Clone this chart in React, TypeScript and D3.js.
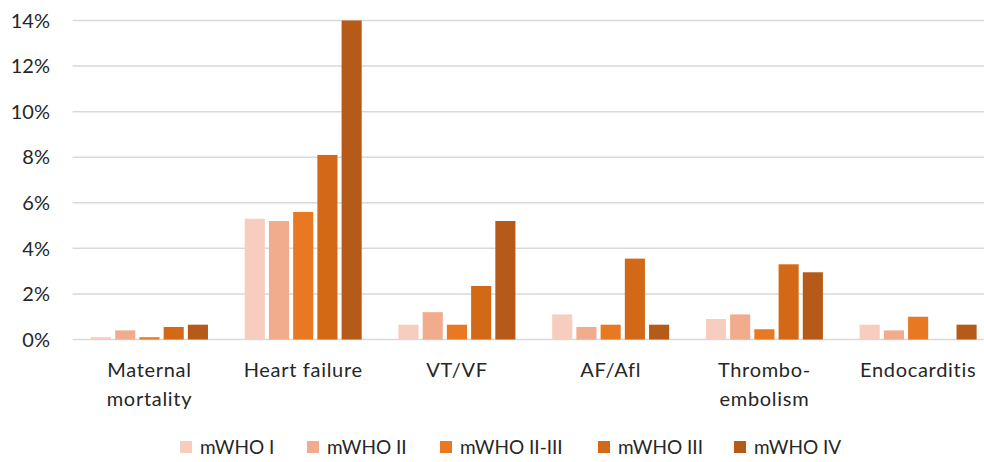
import React from "react";
import * as d3 from "d3";

const categories = [
  ["Maternal", "mortality"],
  ["Heart failure"],
  ["VT/VF"],
  ["AF/Afl"],
  ["Thrombo-", "embolism"],
  ["Endocarditis"],
];
const seriesNames = ["mWHO I", "mWHO II", "mWHO II-III", "mWHO III", "mWHO IV"];
const seriesColors = ["#F6CDBE", "#F0AC8D", "#E97823", "#D36916", "#B55A18"];
const mWHO_I = [0.1, 5.3, 0.65, 1.1, 0.9, 0.65];
const mWHO_II = [0.4, 5.2, 1.2, 0.55, 1.1, 0.4];
const mWHO_II_III = [0.1, 5.6, 0.65, 0.65, 0.45, 1.0];
const mWHO_III = [0.55, 8.1, 2.35, 3.55, 3.3, null];
const mWHO_IV = [0.65, 14.0, 5.2, 0.65, 2.95, 0.65];
const yTicks = [0, 2, 4, 6, 8, 10, 12, 14];
const legendX = [180, 307, 440, 598, 734];

const series = [mWHO_I, mWHO_II, mWHO_II_III, mWHO_III, mWHO_IV];

export default function App() {
  const W = 984, H = 462;
  const left = 72.6, right = 995, top = 20.5, bottom = 339.5;
  const x0 = d3.scaleBand<number>().domain(d3.range(categories.length)).range([left, right]).paddingInner(0).paddingOuter(0);
  const x1 = d3.scaleBand<number>().domain(d3.range(series.length)).range([0, 117]).paddingInner(0.17).paddingOuter(0);
  const y = d3.scaleLinear().domain([0, 14]).range([bottom, top]);
  const font = "Lato, 'Open Sans', sans-serif";
  return (
    <svg width={W} height={H} style={{ position: "absolute", left: 0, top: 0, background: "#fff" }}>
      <rect width={W} height={H} fill="#fff" />
      {yTicks.map((t) => (
        <g key={t}>
          <line x1={left} x2={right} y1={y(t)} y2={y(t)} stroke="#d9d9d9" strokeWidth={1.5} />
          <text x={50} y={y(t)} dy="0.36em" textAnchor="end" fontFamily={font} fontSize={20} fill="#262626">
            {t}%
          </text>
        </g>
      ))}
      {categories.map((c, i) => {
        const gx = x0(i)! + (x0.bandwidth() - 117) / 2;
        return (
          <g key={i}>
            {series.map((s, j) => {
              const v = s[i];
              if (v == null) return null;
              return (
                <rect
                  key={j}
                  x={gx + x1(j)!}
                  y={y(v)}
                  width={x1.bandwidth()}
                  height={y(0) - y(v)}
                  fill={seriesColors[j]}
                />
              );
            })}
            {c.map((line, k) => (
              <text
                key={k}
                x={x0(i)! + x0.bandwidth() / 2}
                y={377 + k * 29}
                textAnchor="middle"
                fontFamily={font}
                fontSize={20}
                letterSpacing={0.7}
                fill="#262626"
              >
                {line}
              </text>
            ))}
          </g>
        );
      })}
      {seriesNames.map((n, j) => (
        <g key={n}>
          <rect x={legendX[j]} y={441} width={12} height={12} fill={seriesColors[j]} />
          <text
            x={legendX[j] + 20}
            y={454}
            fontFamily={font}
            fontSize={19}
            fill="#262626"
          >
            {n}
          </text>
        </g>
      ))}
    </svg>
  );
}
